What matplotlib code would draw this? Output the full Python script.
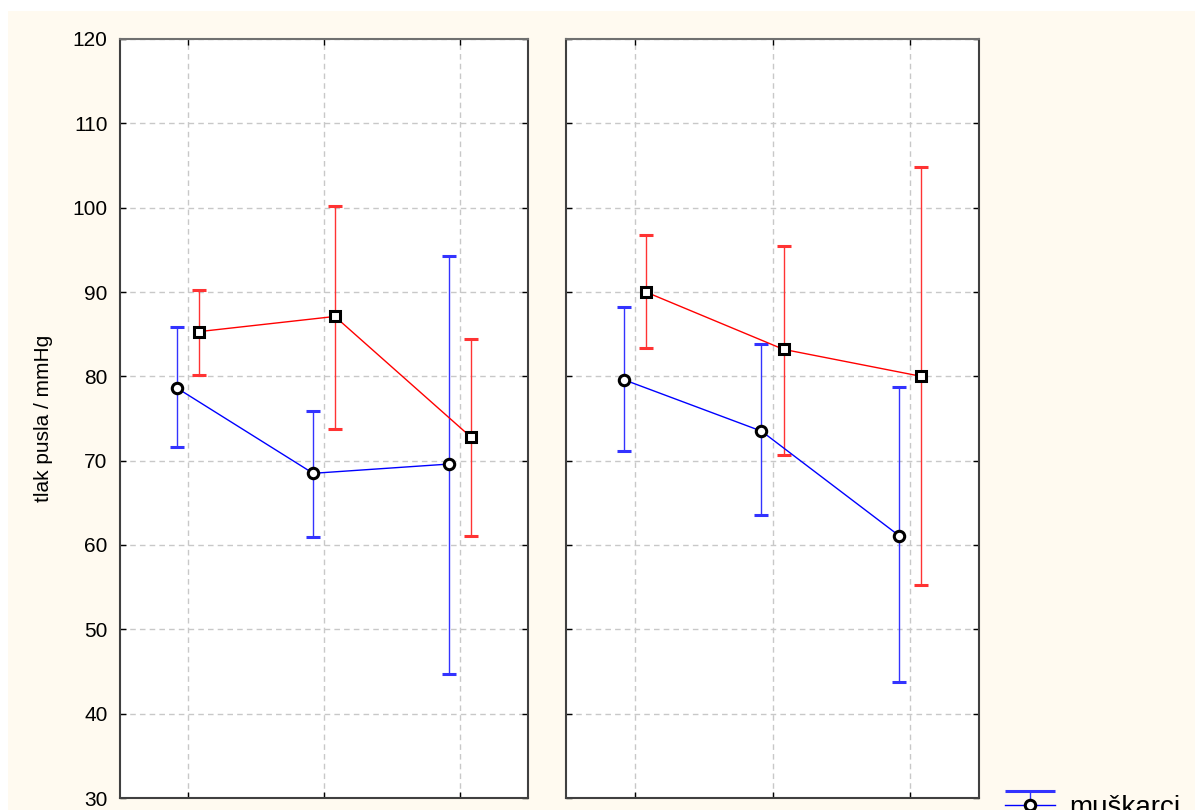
import numpy as np
import matplotlib.pyplot as plt
from matplotlib.patches import Rectangle

plt.rcParams['font.family'] = ['Liberation Sans', 'DejaVu Sans']

# kategorije (tri mjerenja) i vrijednosti ocitane sa slike
kategorije = [1, 2, 3]
y_ticks = [30, 40, 50, 60, 70, 80, 90, 100, 110, 120]

# lijevi panel
lijevo_m = [78.6, 68.5, 69.6]
lijevo_m_donja = [71.6, 60.9, 44.7]
lijevo_m_gornja = [85.8, 75.9, 94.3]
lijevo_z = [85.3, 87.1, 72.8]
lijevo_z_donja = [80.1, 73.8, 61.1]
lijevo_z_gornja = [90.2, 100.2, 84.4]

# desni panel
desno_m = [79.6, 73.5, 61.1]
desno_m_donja = [71.2, 63.6, 43.7]
desno_m_gornja = [88.2, 83.8, 78.7]
desno_z = [90.0, 83.2, 80.0]
desno_z_donja = [83.4, 70.7, 55.2]
desno_z_gornja = [96.7, 95.5, 104.8]

W, H = 1195, 810
fig = plt.figure(figsize=(W / 100, H / 100), dpi=100)
fig.patch.set_facecolor('white')
fig.add_artist(Rectangle((8 / W, 0), 1, 1 - 11 / H, transform=fig.transFigure,
                         facecolor='#FFFAF0', edgecolor='none', zorder=-10))

bottom = 1 - 798 / H
height = 759 / H
ax1 = fig.add_axes([120 / W, bottom, 408 / W, height])
ax2 = fig.add_axes([566 / W, bottom, 413 / W, height])

stil_m = dict(color='#0000FF', ecolor='#3333FF', lw=1, elinewidth=1, capthick=1,
              marker='o', ms=7.5, mfc='white', mec='black', mew=2.2)
stil_z = dict(color='#FF0000', ecolor='#FF3333', lw=1, elinewidth=1, capthick=1,
              marker='s', ms=7, mfc='white', mec='black', mew=2.2)


def crtaj(ax, m, m_lo, m_hi, z, z_lo, z_hi):
    x = np.array(kategorije, dtype=float)
    m = np.array(m); z = np.array(z)
    em = [m - np.array(m_lo), np.array(m_hi) - m]
    ez = [z - np.array(z_lo), np.array(z_hi) - z]
    ax.errorbar(x - 0.08, m, yerr=em, capsize=5, zorder=3, **stil_m)
    ax.errorbar(x + 0.08, z, yerr=ez, capsize=5, zorder=3, **stil_z)
    ax.set_xlim(0.5, 3.5)
    ax.set_ylim(30, 120)
    ax.set_yticks(y_ticks)
    ax.set_xticks(kategorije)
    ax.set_xticklabels([])
    ax.grid(True, color='#C8C8C8', linestyle=(0, (4, 3)), linewidth=1)
    ax.set_axisbelow(True)
    ax.tick_params(direction='in', length=4, width=1, top=True, right=True,
                   labelsize=15, pad=9, colors='black')
    for s in ax.spines.values():
        s.set_color('#404040')
        s.set_linewidth(1.5)
    ax.spines['top'].set_color('#707070')


crtaj(ax1, lijevo_m, lijevo_m_donja, lijevo_m_gornja,
      lijevo_z, lijevo_z_donja, lijevo_z_gornja)
crtaj(ax2, desno_m, desno_m_donja, desno_m_gornja,
      desno_z, desno_z_donja, desno_z_gornja)
ax2.set_yticklabels([])

ax1.set_ylabel('tlak pusla / mmHg', fontsize=15)
ax1.yaxis.set_label_coords(-0.164, 0.5)

# legenda: simboli sa sirokim kapicama (kao u izvorniku), bez podataka
leg_m = ax1.errorbar([np.nan], [np.nan], yerr=[1], capsize=18, **stil_m)
leg_z = ax1.errorbar([np.nan], [np.nan], yerr=[1], capsize=18, **stil_z)
fig.legend([leg_m, leg_z], ['muškarci', 'žene'], loc='upper left',
           bbox_to_anchor=(980 / W, 1 - 770 / H), frameon=False, fontsize=20,
           handlelength=1.8, handletextpad=0.5)

fig.savefig('out.png', dpi=100, facecolor=fig.get_facecolor())
